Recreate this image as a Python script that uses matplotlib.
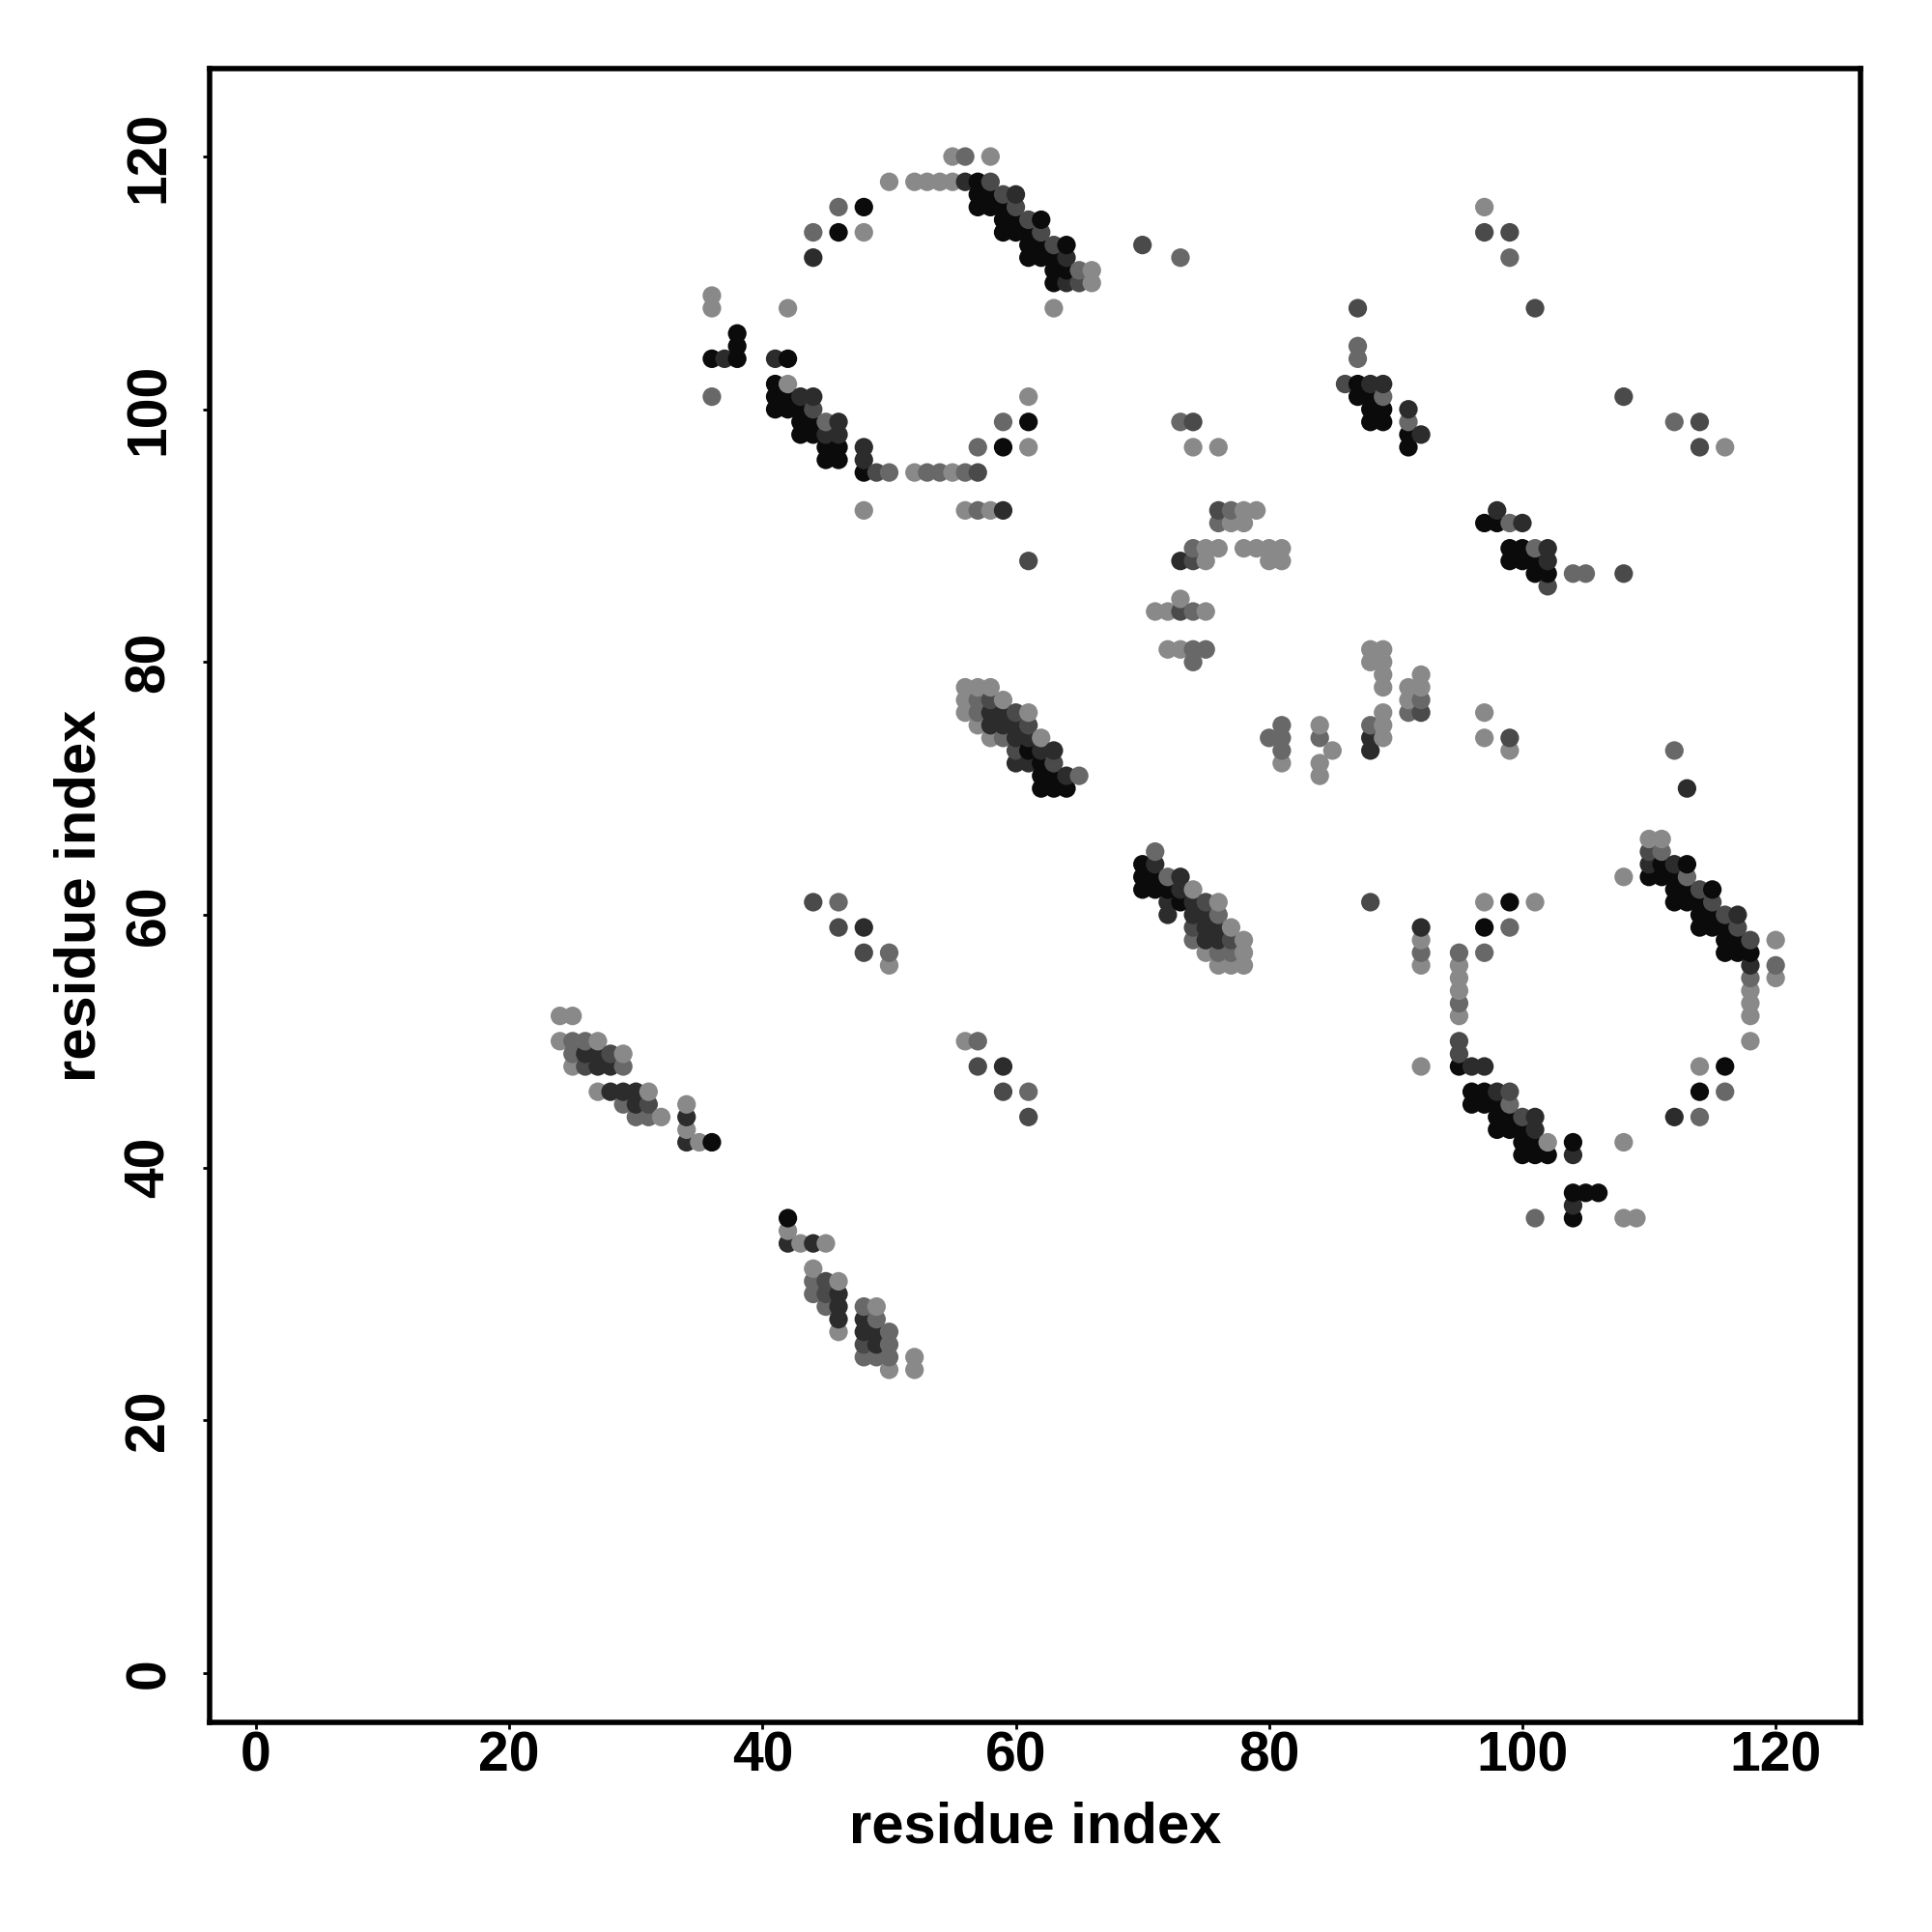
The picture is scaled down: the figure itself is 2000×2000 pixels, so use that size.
import matplotlib
matplotlib.use("Agg")
from matplotlib import pyplot as plt

# contact pairs (residue i, residue j), grouped by grey level of the dot
black_pairs = [
    (57, 118), (57, 117), (58, 117), (48, 116), (57, 116), (58, 116), (59, 116),
    (59, 115), (60, 115), (62, 115), (46, 114), (59, 114), (60, 114), (61, 114),
    (61, 113), (62, 113), (64, 113), (61, 112), (62, 112), (63, 112), (63, 111),
    (64, 111), (63, 110),
    (38, 106), (38, 105), (36, 104), (38, 104), (42, 104), (41, 102), (41, 101),
    (42, 101), (41, 100), (42, 100), (43, 100), (61, 99), (43, 99), (44, 99),
    (43, 98), (44, 98), (45, 97), (46, 97), (59, 97), (45, 96), (46, 96), (48, 95),
    (87, 102), (87, 101), (88, 101), (88, 100), (89, 100), (88, 99), (89, 99),
    (91, 98), (91, 97),
    (61, 73), (62, 72), (62, 71), (63, 71), (62, 70), (63, 70), (64, 70),
    (97, 91), (98, 91), (99, 89), (100, 89), (99, 88), (100, 88), (101, 88),
    (101, 87), (102, 87),
    (70, 64), (70, 63), (71, 63), (70, 62), (71, 62), (72, 62), (73, 61),
    (111, 64), (113, 64), (110, 63), (111, 63), (112, 63), (112, 62), (113, 62),
    (115, 62), (112, 61), (113, 61), (114, 61), (99, 61), (114, 60), (115, 60),
    (114, 59), (115, 59), (116, 59), (97, 59), (116, 58), (117, 58), (116, 57),
    (117, 57), (118, 57),
    (95, 48), (116, 48), (96, 46), (97, 46), (114, 46), (96, 45), (97, 45),
    (98, 45), (98, 44), (99, 44), (98, 43), (99, 43), (100, 43), (100, 42),
    (101, 42), (104, 42), (100, 41), (101, 41), (102, 41), (104, 38), (105, 38),
    (106, 38), (104, 36),
    (36, 42), (42, 36),
]

dark_pairs = [
    (56, 118), (60, 117), (44, 112), (64, 112), (64, 110), (37, 104), (41, 104),
    (43, 101), (44, 101), (46, 99), (45, 98), (46, 98), (48, 97), (48, 96), (59, 92),
    (88, 102), (89, 102), (91, 100), (92, 98), (73, 88),
    (58, 76), (59, 76), (58, 75), (59, 75), (60, 75), (60, 74), (61, 74), (62, 73),
    (63, 73), (60, 72), (61, 72), (64, 71),
    (88, 74), (88, 73),
    (98, 92), (100, 91), (102, 89), (102, 88),
    (71, 64), (73, 63), (73, 62), (72, 61), (74, 61), (72, 60), (74, 60), (75, 60),
    (75, 59), (76, 59), (75, 58), (76, 58),
    (92, 59), (110, 64), (112, 64), (117, 60), (118, 56), (96, 48), (97, 48),
    (98, 46), (101, 44), (112, 44), (101, 43), (104, 41), (104, 37), (113, 70),
    (26, 49), (27, 49), (27, 48), (28, 48), (28, 46), (29, 46), (30, 46), (30, 45),
    (34, 44), (34, 42),
    (59, 48), (48, 59),
    (42, 34), (44, 34), (46, 30), (46, 29), (46, 28), (48, 28), (48, 27), (49, 27),
    (49, 26),
]

middark_pairs = [
    (58, 118), (59, 117), (60, 116), (61, 115), (62, 114), (63, 113), (65, 110),
    (44, 100), (49, 95), (57, 95),
    (70, 113), (87, 108), (86, 102), (74, 99), (76, 92), (61, 88), (74, 88), (73, 84),
    (58, 77), (60, 76), (61, 75), (60, 73), (63, 72),
    (97, 114), (99, 114), (101, 108), (108, 101), (114, 99), (114, 97), (102, 86),
    (108, 87),
    (99, 74), (92, 76),
    (75, 61), (74, 59), (77, 58), (88, 61),
    (110, 65), (114, 62), (115, 61), (116, 60), (117, 59), (118, 58), (95, 50),
    (95, 49), (99, 46), (100, 44),
    (28, 49), (26, 48), (31, 45),
    (44, 61), (46, 59), (48, 57), (57, 48), (59, 46), (61, 44),
    (45, 31), (45, 30), (48, 26),
]

mid_pairs = [
    (56, 120), (46, 116), (44, 114), (65, 111), (36, 101), (59, 99), (45, 99),
    (57, 97), (50, 95), (53, 95), (54, 95), (56, 95), (57, 92),
    (73, 112), (87, 105), (87, 104), (89, 101), (91, 99), (73, 99), (77, 92),
    (76, 91), (74, 89), (74, 84), (74, 81), (75, 81), (74, 80),
    (57, 77), (57, 76), (59, 74), (65, 71),
    (88, 75), (92, 77), (91, 76), (80, 74), (81, 74), (81, 75), (84, 74), (81, 73),
    (99, 112), (99, 91), (101, 89), (104, 87), (105, 87), (112, 99),
    (71, 65), (72, 63), (76, 60), (76, 57), (77, 57), (74, 58),
    (92, 57), (95, 57), (95, 53),
    (111, 65), (113, 63), (120, 56), (118, 55), (99, 59), (97, 57), (116, 46),
    (99, 45), (114, 44), (101, 36), (112, 73),
    (25, 50), (26, 50), (25, 49), (29, 48), (29, 45), (30, 44), (31, 44),
    (46, 61), (50, 57), (57, 50), (61, 46),
    (44, 31), (44, 30), (45, 29), (48, 29), (49, 28), (50, 27), (50, 26), (48, 25),
    (49, 25), (50, 25),
]

light_pairs = [
    (55, 120), (58, 120), (55, 118), (50, 118), (52, 118), (53, 118), (54, 118),
    (48, 114), (66, 111), (66, 110), (36, 109), (36, 108), (42, 108), (63, 108),
    (42, 102), (61, 101), (61, 97), (52, 95), (55, 95), (48, 92), (56, 92), (58, 92),
    (74, 97), (76, 97), (78, 92), (79, 92), (77, 91), (78, 91), (75, 89), (76, 89),
    (78, 89), (79, 89), (80, 89), (81, 89), (75, 88), (80, 88), (81, 88), (73, 85),
    (71, 84), (72, 84), (75, 84), (72, 81), (73, 81),
    (56, 78), (57, 78), (58, 78), (56, 77), (59, 77), (56, 76), (61, 76), (57, 75),
    (58, 74), (62, 74),
    (88, 81), (89, 81), (88, 80), (89, 80), (89, 79), (92, 79), (89, 78), (91, 78),
    (92, 78), (91, 77), (89, 76), (89, 75), (89, 74), (85, 73), (81, 72), (84, 75),
    (84, 72), (84, 71),
    (97, 116), (116, 97),
    (74, 62), (76, 61), (77, 59), (78, 58), (75, 57), (78, 57), (76, 56), (77, 56),
    (78, 56),
    (92, 58), (92, 56), (95, 56), (95, 55), (95, 54), (95, 52),
    (110, 66), (111, 66), (108, 63), (120, 58), (120, 55), (118, 54), (118, 53),
    (118, 52), (118, 50), (97, 61), (101, 61), (114, 48), (102, 42), (108, 42),
    (108, 36), (109, 36),
    (92, 48), (97, 76), (97, 74), (99, 73),
    (24, 52), (25, 52), (24, 50), (27, 50), (29, 49), (25, 48), (27, 46), (31, 46),
    (32, 44), (34, 45), (34, 43), (35, 42),
    (50, 56), (56, 50),
    (42, 35), (43, 34), (45, 34), (44, 32), (46, 31), (49, 29), (46, 27), (52, 25),
    (50, 24), (52, 24),
]

tick_values = [0, 20, 40, 60, 80, 100, 120]

plt.rcParams['font.family'] = ['Liberation Sans', 'DejaVu Sans']
plt.rcParams['font.weight'] = 'bold'

groups = [
    (black_pairs, '#0b0b0b'),
    (dark_pairs, '#2c2c2c'),
    (middark_pairs, '#4a4a4a'),
    (mid_pairs, '#686868'),
    (light_pairs, '#898989'),
]
points = []
for pairs, colour in groups:
    for i, j in pairs:
        points.append((i, j, colour))
points.sort(key=lambda p: (p[0], p[1]))
xs = [p[0] for p in points]
ys = [p[1] for p in points]
cols = [p[2] for p in points]

fig = plt.figure(figsize=(10, 10), dpi=200)
ax = fig.add_axes([0.1085, 0.1085, 0.8545, 0.856])
ax.scatter(xs, ys, c=cols, s=48, linewidths=0, zorder=3)

ax.set_xlim(-3.66, 126.7)
ax.set_ylim(-3.9, 126.96)
ax.set_xticks(tick_values)
ax.set_yticks(tick_values)
ax.set_xticklabels([str(t) for t in tick_values], fontsize=20.5, fontweight='bold')
ax.set_yticklabels([str(t) for t in tick_values], fontsize=20.5, fontweight='bold',
                   rotation=90, va='center')
ax.tick_params(axis='both', length=2.6, width=1.0, direction='out')
ax.tick_params(axis='x', pad=0.5)
ax.tick_params(axis='y', pad=10)
for sp in ax.spines.values():
    sp.set_linewidth(2.0)

ax.set_xlabel('residue index', fontsize=21.5, fontweight='bold')
ax.set_ylabel('residue index', fontsize=21.5, fontweight='bold')
ax.xaxis.label.set_va('center')
ax.yaxis.label.set_va('center')
ax.xaxis.set_label_coords(0.5, -0.0637)
ax.yaxis.set_label_coords(-0.0784, 0.5)

fig.savefig('out.png', dpi=200)
plt.close()
